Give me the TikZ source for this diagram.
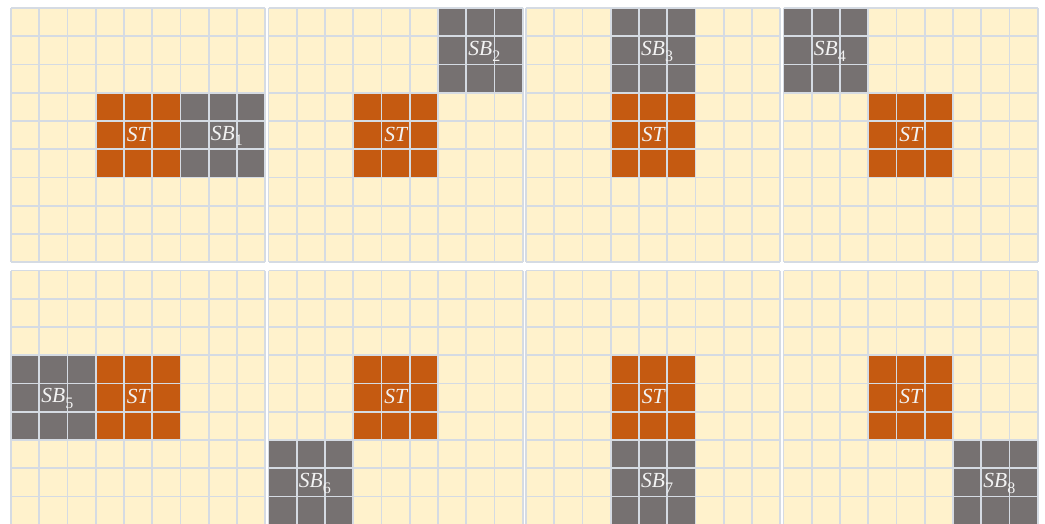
\documentclass[tikz,border=0pt]{standalone}
\usepackage{fontspec}
\newfontfamily\labfont{Liberation Serif}
\definecolor{cream}{HTML}{FFF2CC}
\definecolor{storange}{HTML}{C55A11}
\definecolor{sbgray}{HTML}{767171}
\definecolor{gridc}{HTML}{D5DBE3}
\definecolor{labelc}{HTML}{F2F2F2}
\tikzset{
  gridline/.style={draw=gridc, line width=1.6pt},
  blocklabel/.style={text=labelc, inner sep=0pt, font=\labfont\fontsize{21.5}{24}\selectfont},
}
\newcommand{\sublab}[1]{\raisebox{-5.5pt}{\upshape\fontsize{16}{16}\selectfont #1}}
\begin{document}
\begin{tikzpicture}[x=1pt,y=-1pt]
\useasboundingbox[fill=white] (0,0) rectangle (1045,524);
\def\cs{28.25}
\def\bs{84.75}
\def\ps{254.25}
\foreach \i/\px/\py/\c/\r in {1/11/8/2/1, 2/268.5/8/2/0, 3/526/8/1/0, 4/783.5/8/0/0,
                               5/11/270.5/0/1, 6/268.5/270.5/0/2, 7/526/270.5/1/2, 8/783.5/270.5/2/2}{
  \begin{scope}[shift={(\px,\py)}]
    \fill[cream] (0,0) rectangle (\ps,\ps);
    \fill[storange] (\bs,\bs) rectangle (2*\bs,2*\bs);
    \fill[sbgray] (\c*\bs,\r*\bs) rectangle ++(\bs,\bs);
    \foreach \k in {0,...,9}{
      \draw[gridline] (\k*\cs,0) -- (\k*\cs,\ps);
      \draw[gridline] (0,\k*\cs) -- (\ps,\k*\cs);
    }
    \node[blocklabel] (st\i) at (1.5*\bs,1.5*\bs-1) {\itshape ST};
    \node[blocklabel] (sb\i) at (\c*\bs+0.5*\bs+4,\r*\bs+0.5*\bs+1) {\itshape SB\sublab{\i}};
  \end{scope}
}
\end{tikzpicture}
\end{document}
